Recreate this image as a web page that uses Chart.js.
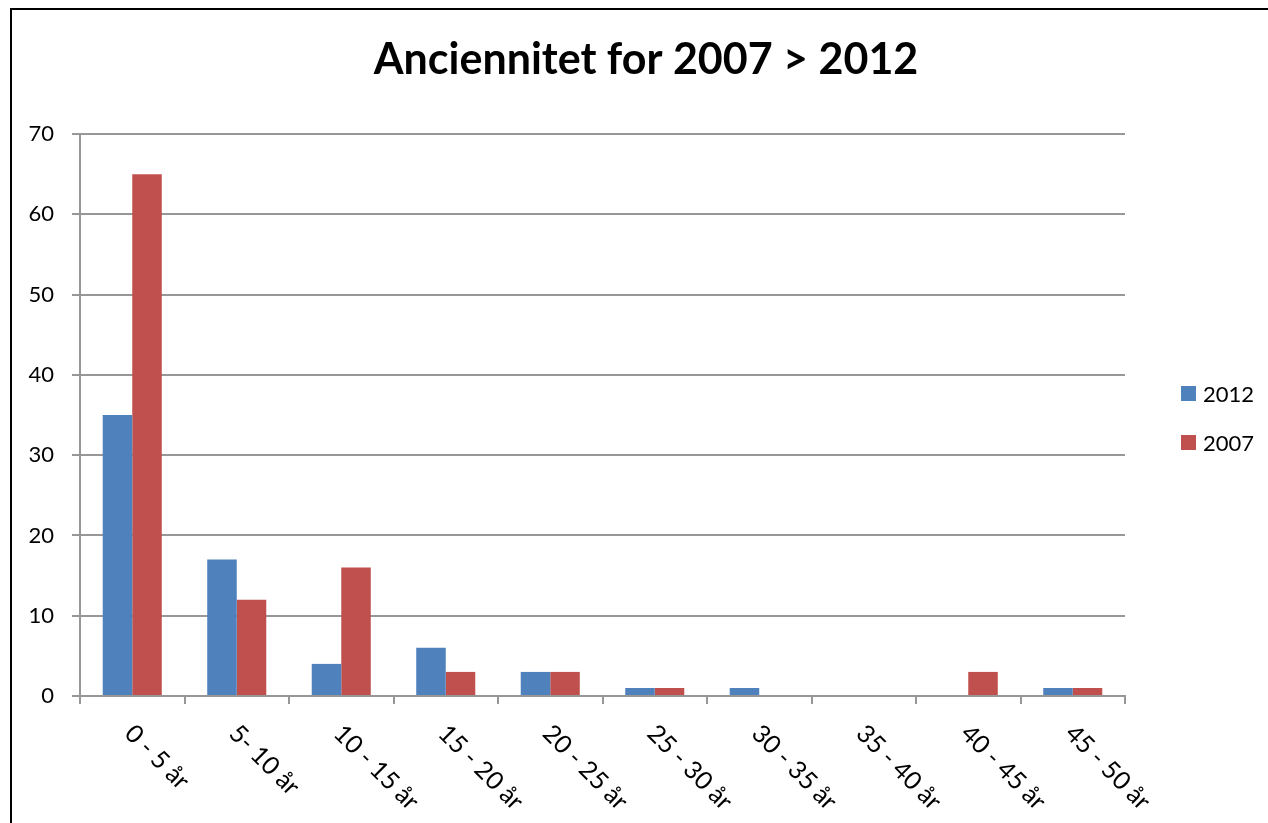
<!DOCTYPE html>
<html>
<head>
<meta charset="utf-8">
<script src="https://cdn.jsdelivr.net/npm/chart.js@4.4.1/dist/chart.umd.min.js"></script>
<style>
  html, body { margin: 0; padding: 0; background: #fff; overflow: hidden; }
  #wrap { position: relative; width: 1268px; height: 823px; }
  #frame {
    position: absolute; left: 10px; top: 8px; width: 1400px; height: 1000px;
    border-left: 2px solid #000; border-top: 2px solid #000; box-sizing: border-box;
  }
  #chart { position: absolute; left: 0; top: 0; }
</style>
</head>
<body>
<div id="wrap">
  <div id="frame"></div>
  <canvas id="chart" width="1268" height="823"></canvas>
</div>
<script>
// Seniority bands (years of service)
const categories = ['0 - 5 år', '5- 10 år', '10 - 15 år', '15 - 20 år', '20 - 25 år',
                    '25 - 30 år', '30 - 35 år', '35 - 40 år', '40 - 45 år', '45 - 50 år'];
// Head count per band
const values2012 = [35, 17, 4, 6, 3, 1, 1, 0, 0, 1];
const values2007 = [65, 12, 16, 3, 3, 1, 0, 0, 3, 1];
const seriesNames = ['2012', '2007'];
const seriesColors = ['#4F81BD', '#C0504D'];
const yTicks = [0, 10, 20, 30, 40, 50, 60, 70];

const FONT = 'Lato, "Liberation Sans", sans-serif';
const GRID = '#979797';

// Side legend, registered as a layout box so it reserves room on the right
const sideLegend = {
  id: 'sideLegend',
  beforeInit(chart) {
    const box = {
      position: 'right', weight: 0, fullSize: false, options: {},
      left: 0, top: 0, right: 0, bottom: 0, width: 0, height: 0,
      isHorizontal() { return false; },
      update(maxWidth, maxHeight) {
        this.width = 143;
        this.height = maxHeight;
      },
      getPadding() { return { left: 0, top: 0, right: 0, bottom: 0 }; },
      draw() {
        const ctx = chart.ctx;
        const sets = chart.data.datasets;
        const spacing = 49;
        const mid = (this.top + this.bottom) / 2 + 3.5;
        const y0 = mid - spacing * (sets.length - 1) / 2;
        ctx.save();
        ctx.font = '22px ' + FONT;
        ctx.textBaseline = 'middle';
        ctx.textAlign = 'left';
        sets.forEach((ds, i) => {
          const y = y0 + i * spacing;
          ctx.fillStyle = ds.backgroundColor;
          ctx.fillRect(this.left + 56, y - 8, 15, 15);
          ctx.fillStyle = '#000';
          ctx.fillText(ds.label, this.left + 78, y + 1);
        });
        ctx.restore();
      }
    };
    Chart.layouts.addBox(chart, box);
  }
};

// Category labels slanted downward to the right, starting at each band's centre
const slantedLabels = {
  id: 'slantedLabels',
  afterDraw(chart) {
    const xs = chart.scales.x;
    const ctx = chart.ctx;
    ctx.save();
    ctx.font = '25px ' + FONT;
    ctx.fillStyle = '#000';
    ctx.textAlign = 'left';
    ctx.textBaseline = 'alphabetic';
    chart.data.labels.forEach((lab, i) => {
      const px = xs.getPixelForValue(i);
      ctx.save();
      ctx.translate(px - 9, xs.top + 39);
      ctx.rotate(Math.PI / 4);
      ctx.fillText(lab, 0, 0);
      ctx.restore();
    });
    ctx.restore();
  }
};

new Chart(document.getElementById('chart'), {
  type: 'bar',
  data: {
    labels: categories,
    datasets: [
      { label: seriesNames[0], data: values2012, backgroundColor: seriesColors[0], borderWidth: 0 },
      { label: seriesNames[1], data: values2007, backgroundColor: seriesColors[1], borderWidth: 0 }
    ]
  },
  options: {
    responsive: false,
    animation: false,
    layout: { padding: { left: 24, right: 0, top: 0, bottom: 0 } },
    datasets: { bar: { categoryPercentage: 0.565, barPercentage: 1.0 } },
    plugins: {
      legend: { display: false },
      tooltip: { enabled: false },
      title: {
        display: true,
        text: 'Anciennitet for 2007 > 2012',
        color: '#000',
        font: { family: FONT, size: 43, weight: 'bold', lineHeight: 1.2 },
        padding: { top: 34.7, bottom: 47.7 }
      }
    },
    scales: {
      x: {
        ticks: { display: false },
        grid: { display: true, drawOnChartArea: false, drawTicks: true, tickLength: 8, color: GRID, lineWidth: 2 },
        border: { display: true, color: GRID, width: 2 },
        afterFit(s) { s.height = 127; }
      },
      y: {
        min: 0, max: 70,
        afterBuildTicks(s) { s.ticks = yTicks.map(v => ({ value: v })); },
        ticks: { color: '#000', padding: 18, font: { family: FONT, size: 22 } },
        grid: { color: GRID, lineWidth: 2, tickLength: 8, drawTicks: true },
        border: { display: true, color: GRID, width: 2 },
        afterFit(s) { s.width = 56; }
      }
    }
  },
  plugins: [sideLegend, slantedLabels]
});
</script>
</body>
</html>
